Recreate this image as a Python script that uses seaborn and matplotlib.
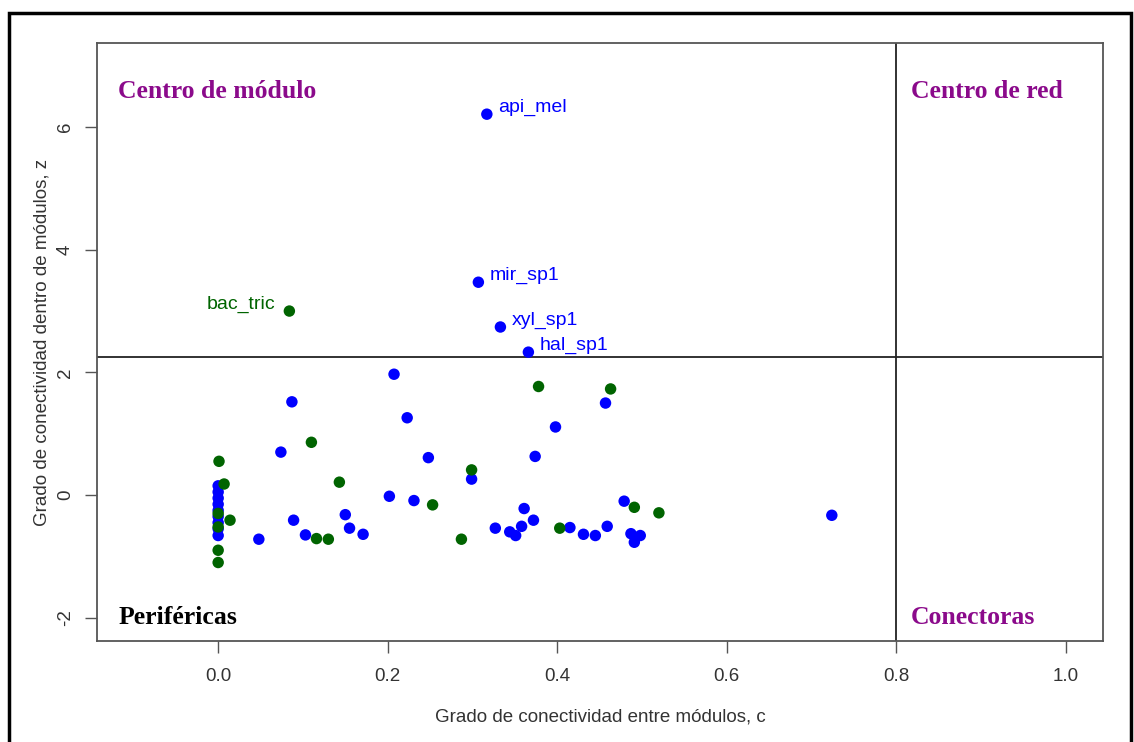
import matplotlib
matplotlib.use("Agg")
import matplotlib.pyplot as plt
import seaborn as sns
import pandas as pd

# Blue group (c, z)
blue_c = [0.317, 0.307, 0.333, 0.366,
          0.2075, 0.087, 0.223, 0.074, 0.248, 0.299, 0.202, 0.231, 0.089, 0.150,
          0.155, 0.171, 0.103, 0.048, 0.327, 0.457, 0.398, 0.374, 0.479, 0.724,
          0.361, 0.372, 0.358, 0.344, 0.351, 0.415, 0.431, 0.445, 0.459, 0.487,
          0.498, 0.491,
          0.0, 0.0, 0.0, 0.0, 0.0, 0.0, 0.0, 0.0, 0.0]
blue_z = [6.21, 3.47, 2.74, 2.33,
          1.97, 1.52, 1.26, 0.70, 0.61, 0.26, -0.02, -0.09, -0.41, -0.32,
          -0.54, -0.64, -0.65, -0.72, -0.54, 1.50, 1.11, 0.63, -0.10, -0.33,
          -0.22, -0.41, -0.51, -0.60, -0.66, -0.53, -0.64, -0.66, -0.51, -0.63,
          -0.66, -0.77,
          0.15, 0.05, -0.05, -0.15, -0.25, -0.35, -0.45, -0.55, -0.66]
# Green group (c, z)
green_c = [0.084, 0.110, 0.001, 0.299, 0.007, 0.143, 0.253, 0.0, 0.0, 0.014,
           0.116, 0.130, 0.287, 0.0, 0.0, 0.378, 0.463, 0.491, 0.520, 0.403]
green_z = [3.00, 0.86, 0.55, 0.41, 0.18, 0.21, -0.16, -0.30, -0.52, -0.41,
           -0.71, -0.72, -0.72, -0.90, -1.10, 1.77, 1.73, -0.20, -0.29, -0.54]

labels_blue = ["api_mel", "mir_sp1", "xyl_sp1", "hal_sp1"]
label_green = "bac_tric"

z_threshold = 2.25
c_threshold = 0.8

df = pd.DataFrame({
    "c": blue_c + green_c,
    "z": blue_z + green_z,
    "grupo": ["azul"] * len(blue_c) + ["verde"] * len(green_c),
})

sns.set_style("white")
plt.rcParams["font.family"] = ["Liberation Sans", "DejaVu Sans"]

fig = plt.figure(figsize=(11.34, 7.42), dpi=100)
ax = fig.add_axes([0.0855, 0.1361, 0.8872, 0.8059])

sns.scatterplot(data=df, x="c", y="z", hue="grupo",
                palette={"azul": "#0000FF", "verde": "#006400"},
                s=68, edgecolor="none", legend=False, ax=ax, zorder=3)

ax.set_xlim(-0.143, 1.044)
ax.set_ylim(-2.38, 7.37)
ax.axhline(z_threshold, color="#222222", lw=1.3, zorder=2)
ax.axvline(c_threshold, color="#222222", lw=1.3, zorder=2)

for i, lab in enumerate(labels_blue):
    ax.annotate(lab, (blue_c[i], blue_z[i]), xytext=(8, 5), textcoords="offset points",
                color="#0000FF", fontsize=14, va="center", ha="left")
ax.annotate(label_green, (green_c[0], green_z[0]), xytext=(-10, 5), textcoords="offset points",
            color="#006400", fontsize=14, va="center", ha="right")

purple = "#8B0A8B"
serif = ["Liberation Serif", "DejaVu Serif"]
qsize = 18.5
ax.text(-0.118, 6.58, "Centro de módulo", color=purple, fontsize=qsize, fontweight="bold",
        family=serif, va="center", ha="left")
ax.text(0.817, 6.58, "Centro de red", color=purple, fontsize=qsize, fontweight="bold",
        family=serif, va="center", ha="left")
ax.text(-0.118, -1.99, "Periféricas", color="black", fontsize=qsize, fontweight="bold",
        family=serif, va="center", ha="left")
ax.text(0.817, -1.99, "Conectoras", color=purple, fontsize=qsize, fontweight="bold",
        family=serif, va="center", ha="left")

ax.set_xticks([0.0, 0.2, 0.4, 0.6, 0.8, 1.0])
ax.set_xticklabels(["0.0", "0.2", "0.4", "0.6", "0.8", "1.0"])
ax.set_yticks([-2, 0, 2, 4, 6])
ax.set_yticklabels(["-2", "0", "2", "4", "6"], rotation=90, va="center")
ax.tick_params(axis="x", direction="out", length=8.5, width=1, color="#555555",
               labelsize=13.5, labelcolor="#333333", pad=11, bottom=True)
ax.tick_params(axis="y", direction="out", length=8.5, width=1, color="#555555",
               labelsize=13.5, labelcolor="#333333", pad=8, left=True)

for sp in ax.spines.values():
    sp.set_visible(True)
    sp.set_color("#555555")
    sp.set_linewidth(1.3)

ax.set_xlabel("Grado de conectividad entre módulos, c", fontsize=13.5, color="#333333", labelpad=17)
ax.set_ylabel("Grado de conectividad dentro de módulos, z", fontsize=13.5, color="#333333", labelpad=5)

# outer border
fig.patches.append(plt.Rectangle((0.008, -0.01), 0.989, 0.993, transform=fig.transFigure,
                                 fill=False, edgecolor="black", lw=2.5))

fig.savefig("out.png", dpi=100)
